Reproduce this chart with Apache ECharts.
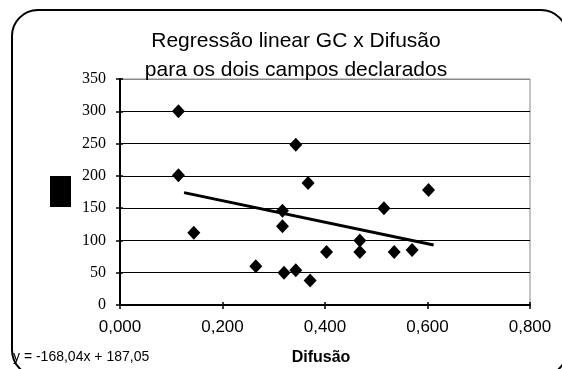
<!DOCTYPE html>
<html>
<head>
<meta charset="utf-8">
<script src="https://cdn.jsdelivr.net/npm/echarts@6/dist/echarts.min.js"></script>
<style>
html,body{margin:0;padding:0;background:#fff;}
#chart{width:562px;height:369px;}
</style>
</head>
<body>
<div id="chart"></div>
<script>
// ---- data ----
const titleLines = ['Regressão linear GC x Difusão', 'para os dois campos declarados'];
const xName = 'Difusão';
const equationText = 'y = -168,04x + 187,05';
const difusao = [0.114, 0.114, 0.144, 0.265, 0.317, 0.317, 0.320, 0.343, 0.343, 0.367, 0.371, 0.403, 0.468, 0.468, 0.515, 0.535, 0.570, 0.602];
const gc      = [300,   201,   112,   60,    146,   122,   50,    248,   54,    189,   38,    82,    100,   82,    150,   82,    85,    178];
const trendX = [0.125, 0.612];
const trendY = [174, 93];
const xTickValues = [0, 0.2, 0.4, 0.6, 0.8];
const xTickLabels = ['0,000', '0,200', '0,400', '0,600', '0,800'];
const yTickValues = [0, 50, 100, 150, 200, 250, 300, 350];
const yTickLabels = ['0', '50', '100', '150', '200', '250', '300', '350'];

const points = difusao.map((x, i) => [x, gc[i]]);
const trend = trendX.map((x, i) => [x, trendY[i]]);

function labelFor(values, labels) {
  return function (v) {
    for (let i = 0; i < values.length; i++) {
      if (Math.abs(values[i] - v) < 1e-9) return labels[i];
    }
    return '';
  };
}

const chart = echarts.init(document.getElementById('chart'), null, {renderer: 'canvas'});
const option = {
  animation: false,
  backgroundColor: '#ffffff',
  title: {
    text: titleLines.join('\n'),
    left: 296,
    textAlign: 'center',
    top: 27,
    padding: 0,
    textStyle: {
      fontFamily: 'Liberation Sans, Arial, sans-serif',
      fontSize: 21,
      fontWeight: 'normal',
      color: '#000',
      lineHeight: 29
    }
  },
  grid: {
    left: 120, right: 32, top: 79, bottom: 64,
    show: true,
    borderColor: '#888888',
    borderWidth: 1,
    backgroundColor: 'transparent'
  },
  xAxis: [{
    type: 'value',
    min: 0, max: 0.8, interval: 0.2,
    axisLine: {show: true, onZero: false, lineStyle: {color: '#000', width: 2}},
    axisTick: {show: true, length: 4, lineStyle: {color: '#000', width: 1.5}},
    splitLine: {show: false},
    axisLabel: {
      margin: 14,
      formatter: labelFor(xTickValues, xTickLabels),
      fontFamily: 'Liberation Sans, Arial, sans-serif',
      fontSize: 17,
      color: '#000'
    }
  }, {
    type: 'value',
    position: 'bottom',
    min: 0, max: 0.8, interval: 0.2,
    axisLine: {show: false},
    axisTick: {show: true, inside: true, length: 3, lineStyle: {color: '#000', width: 1.5}},
    splitLine: {show: false},
    axisLabel: {show: false}
  }],
  yAxis: [{
    type: 'value',
    min: 0, max: 350, interval: 50,
    axisLine: {show: true, onZero: false, lineStyle: {color: '#000', width: 2}},
    axisTick: {show: true, length: 4, lineStyle: {color: '#000', width: 1.5}},
    splitLine: {
      show: true,
      lineStyle: {color: ['#000', '#000', '#000', '#000', '#000', '#000', '#000', '#888888'], width: 1}
    },
    axisLabel: {
      margin: 14,
      formatter: labelFor(yTickValues, yTickLabels),
      fontFamily: 'Liberation Serif, Times New Roman, serif',
      fontSize: 16,
      color: '#000'
    }
  }, {
    type: 'value',
    position: 'left',
    min: 0, max: 350, interval: 50,
    axisLine: {show: false},
    axisTick: {show: true, inside: true, length: 3, lineStyle: {color: '#000', width: 1.5}},
    splitLine: {show: false},
    axisLabel: {show: false}
  }],
  series: [{
    type: 'line',
    data: trend,
    xAxisIndex: 0, yAxisIndex: 0,
    symbol: 'none',
    lineStyle: {color: '#000', width: 3, opacity: 1},
    z: 3
  }, {
    type: 'scatter',
    data: points,
    xAxisIndex: 0, yAxisIndex: 0,
    symbol: 'diamond',
    symbolSize: [13, 14],
    itemStyle: {color: '#000', opacity: 1},
    z: 4
  }],
  graphic: [
    {
      type: 'rect',
      shape: {x: 12, y: 10, width: 555, height: 366, r: 26},
      style: {fill: 'none', stroke: '#000', lineWidth: 2},
      silent: true,
      z: 10
    },
    {
      type: 'rect',
      shape: {x: 50, y: 176, width: 21, height: 31},
      style: {fill: '#000'},
      silent: true
    },
    {
      type: 'text',
      style: {
        text: equationText, x: 13, y: 357,
        verticalAlign: 'middle', align: 'left',
        font: 'normal 14px "Liberation Sans", Arial, sans-serif',
        fill: '#000'
      },
      z: 5
    },
    {
      type: 'text',
      style: {
        text: xName, x: 321, y: 358,
        verticalAlign: 'middle', align: 'center',
        font: 'bold 16px "Liberation Sans", Arial, sans-serif',
        fill: '#000'
      },
      z: 5
    }
  ]
};
chart.setOption(option);
</script>
</body>
</html>
